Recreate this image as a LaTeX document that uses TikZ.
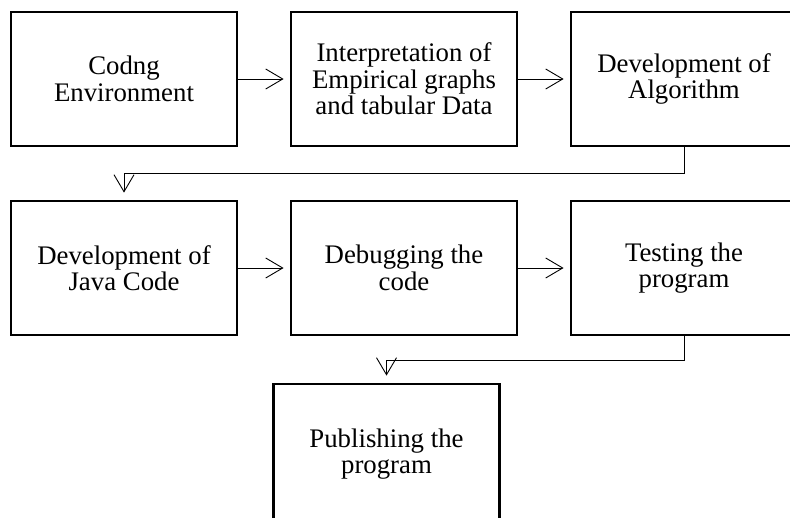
\documentclass[tikz,border=0pt]{standalone}
\usepackage{fontspec}
\setmainfont{Liberation Serif}
\usetikzlibrary{arrows.meta}
\begin{document}
\begin{tikzpicture}[x=1pt,y=-1pt,
  box/.style={draw, line width=2.8pt, minimum width=226pt, minimum height=134pt,
    align=center, font=\fontsize{26.8}{26.5}\selectfont, inner sep=0pt},
  conn/.style={line width=0.9pt, -{Straight Barb[length=17pt,width=20pt,line width=0.9pt]}, shorten >=6pt}]
\useasboundingbox (0,0) rectangle (790,517);
\clip (0,0) rectangle (790,517);
\fill[white] (0,0) rectangle (790,517);
\node[box] (a) at (124,79) {Codng\\Environment};
\node[box] (b) at (404,79) {Interpretation of\\Empirical graphs\\and tabular Data};
\node[box] (c) at (684,79) {Development of\\Algorithm};
\node[box] (d) at (124,268) {Development of\\Java Code};
\node[box] (e) at (404,268) {Debugging the\\code};
\node[box] (f) at (684,268) {Testing the\\program};
\node[box, minimum height=140pt] (g) at (386.5,454) {Publishing the\\program};
\draw[conn] (a) -- (b);
\draw[conn] (b) -- (c);
\draw[conn] (d) -- (e);
\draw[conn] (e) -- (f);
\draw[conn, shorten >=7pt] (c.south) -- ++(0,26) -| (d.north);
\draw[conn, shorten >=7pt] (f.south) -- ++(0,24) -| (g.north);
\end{tikzpicture}
\end{document}
